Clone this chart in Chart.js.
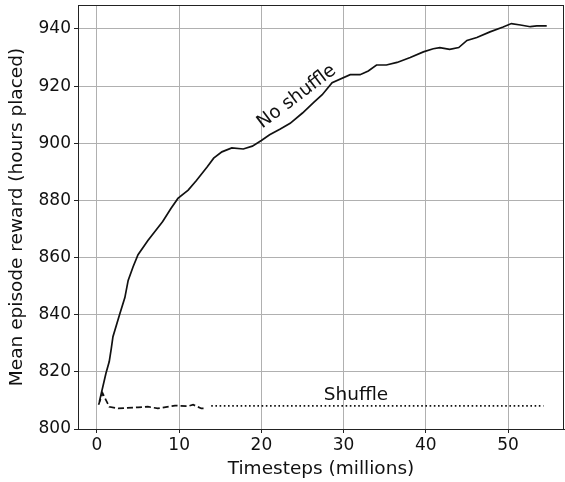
<!DOCTYPE html>
<html>
<head>
<meta charset="utf-8">
<script src="https://cdn.jsdelivr.net/npm/chart.js@4"></script>
<style>
  html, body { margin: 0; padding: 0; background: #fff; }
  #wrap { width: 565px; height: 482px; }
</style>
</head>
<body>
<div id="wrap"><canvas id="rewardChart" width="565" height="482"></canvas></div>
<script>
// timesteps (millions) and mean reward
var noShuffleX = [0.3, 1.1, 1.5, 1.75, 1.95, 2.75, 3.4, 3.8, 4.4, 5.0, 6.2, 8.0, 9.0, 9.85, 11.1, 12.1,
    13.4, 14.2, 15.2, 16.4, 17.8, 18.9, 20.0, 21.0, 22.3, 23.5, 25.0, 26.4, 27.4, 28.6,
    30.8, 32.0, 33.0, 34.0, 35.2, 36.5, 38.1, 39.7, 40.9, 41.7, 42.9, 44.0, 45.0, 46.2,
    47.8, 49.4, 50.4, 51.5, 52.7, 53.5, 54.7];
var noShuffleY = [809.6, 819.5, 823.6, 828.2, 832.3, 840, 846, 852, 856.8, 861, 866, 872.6, 877.2, 880.7, 883.6, 887,
    891.7, 894.8, 897, 898.4, 898, 899, 901, 903, 905, 907, 910.6, 914.4, 917, 921.2,
    924, 924, 925.3, 927.4, 927.4, 928.3, 930, 932, 933.1, 933.5, 932.9, 933.5, 936, 937,
    939, 940.7, 941.9, 941.4, 940.8, 941.1, 941.1];

var shuffleX = [0.2, 0.7, 1.5, 2.6, 5.0, 6.2, 7.4, 9.5, 11.1, 11.7, 12.7, 13.3];
var shuffleY = [808.5, 812.5, 807.8, 807.2, 807.6, 807.8, 807.2, 808.2, 808.0, 808.5, 807.2, 807.2];

// dotted continuation
var shuffleLaterX = [13.9, 54.3];
var shuffleLaterY = [808.1, 808.1];

var xTicks = [0, 10, 20, 30, 40, 50];
var yTicks = [800, 820, 840, 860, 880, 900, 920, 940];

function pts(xs, ys) {
    return xs.map(function (x, i) { return { x: x, y: ys[i] }; });
}

var font = "'DejaVu Sans', sans-serif";

// text labels + box around plot area
var labelsPlugin = {
    id: 'labels',
    afterDatasetsDraw: function (chart) {
        var ctx = chart.ctx, a = chart.chartArea;
        var xs = chart.scales.x, ys = chart.scales.y;
        ctx.save();
        ctx.fillStyle = '#111';
        ctx.font = '18.5px ' + font;
        ctx.textAlign = 'center';
        ctx.textBaseline = 'middle';
        ctx.translate(xs.getPixelForValue(24.3), ys.getPixelForValue(916.3));
        ctx.rotate(-37 * Math.PI / 180);
        ctx.fillText('No shuffle', 0, 0);
        ctx.restore();

        ctx.save();
        ctx.fillStyle = '#111';
        ctx.font = '18.5px ' + font;
        ctx.textAlign = 'center';
        ctx.textBaseline = 'middle';
        ctx.fillText('Shuffle', xs.getPixelForValue(31.5), ys.getPixelForValue(811.9));
        ctx.restore();

        ctx.save();
        ctx.strokeStyle = '#222';
        ctx.lineWidth = 1;
        ctx.strokeRect(Math.round(a.left) + 0.5, Math.round(a.top) + 0.5,
            Math.round(a.right - a.left) - 1, Math.round(a.bottom - a.top));
        ctx.restore();
    }
};

new Chart(document.getElementById('rewardChart'), {
    type: 'line',
    data: {
        datasets: [{
            label: 'No shuffle',
            data: pts(noShuffleX, noShuffleY),
            borderColor: '#111',
            borderWidth: 1.7,
            pointRadius: 0,
            tension: 0
        }, {
            label: 'Shuffle',
            data: pts(shuffleX, shuffleY),
            borderColor: '#111',
            borderWidth: 1.7,
            borderDash: [6, 3],
            pointRadius: 0,
            tension: 0
        }, {
            label: 'Shuffle (later)',
            data: pts(shuffleLaterX, shuffleLaterY),
            borderColor: '#111',
            borderWidth: 1.7,
            borderDash: [1.6, 2.6],
            pointRadius: 0,
            tension: 0
        }]
    },
    options: {
        responsive: false,
        animation: false,
        layout: { padding: { top: 5, right: 1, left: 0, bottom: 0 } },
        plugins: {
            legend: { display: false },
            tooltip: { enabled: false }
        },
        scales: {
            x: {
                type: 'linear',
                min: -2.3,
                max: 56.8,
                afterBuildTicks: function (s) { s.ticks = xTicks.map(function (v) { return { value: v }; }); },
                afterFit: function (s) { s.height = 53; s.paddingLeft = 0; s.paddingRight = 0; },
                grid: { color: '#b0b0b0', lineWidth: 1, tickColor: '#222', tickLength: 4 },
                border: { color: '#222' },
                ticks: { color: '#111', font: { family: font, size: 17 }, padding: 2, maxRotation: 0 },
                title: { display: true, text: 'Timesteps (millions)', color: '#111',
                    font: { family: font, size: 18.5 }, padding: { top: 0, bottom: 2 } }
            },
            y: {
                min: 800,
                max: 948.4,
                afterBuildTicks: function (s) { s.ticks = yTicks.map(function (v) { return { value: v }; }); },
                afterFit: function (s) { s.width = 78; s.paddingTop = 0; s.paddingBottom = 0; },
                grid: { color: '#b0b0b0', lineWidth: 1, tickColor: '#222', tickLength: 4 },
                border: { color: '#222' },
                ticks: { color: '#111', font: { family: font, size: 17 }, padding: 3 },
                title: { display: true, text: 'Mean episode reward (hours placed)', color: '#111',
                    font: { family: font, size: 18.5 }, padding: { top: 6, bottom: 0 } }
            }
        }
    },
    plugins: [labelsPlugin]
});
</script>
</body>
</html>
